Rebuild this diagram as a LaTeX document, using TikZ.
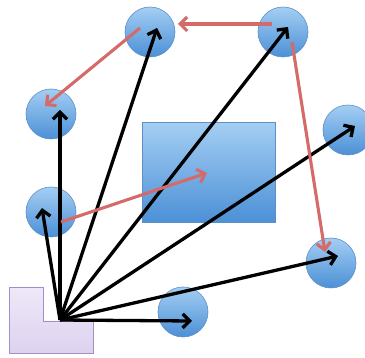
\documentclass[tikz,border=0pt]{standalone}
\usetikzlibrary{arrows.meta}
\definecolor{balltop}{HTML}{A4CEF3}
\definecolor{ballbot}{HTML}{4C90D6}
\definecolor{ballrim}{HTML}{5C90C6}
\definecolor{redline}{HTML}{D56A6A}
\definecolor{lavtop}{HTML}{EEE8F8}
\definecolor{lavbot}{HTML}{DDD2EF}
\definecolor{lavrim}{HTML}{A28FCA}
\begin{document}
\begin{tikzpicture}[x=1pt,y=-1pt,
  ball/.style={circle, minimum size=50pt, inner sep=0pt, draw=ballrim, line width=0.6pt,
               top color=balltop, bottom color=ballbot},
  block/.style={draw=ballrim, line width=0.6pt, top color=balltop, bottom color=ballbot},
  ray/.style={line width=3.3pt, black, -{Straight Barb[length=7pt,width=14pt]}},
  hop/.style={line width=3.1pt, redline, -{Straight Barb[length=7pt,width=14pt]}}]
\useasboundingbox (0,0) rectangle (365,358);

% L-shaped base and central block
\path[draw=lavrim, line width=0.6pt, top color=lavtop, bottom color=lavbot]
  (9,287) -- (43,287) -- (43,321) -- (93,321) -- (93,353) -- (9,353) -- cycle;
\node[block, minimum width=133pt, minimum height=100pt, inner sep=0pt] (blk) at (208.5,172.5) {};

% circles
\node[ball] (a) at (150,32) {};
\node[ball] (b) at (283,32) {};
\node[ball] (c) at (51,114) {};
\node[ball] (d) at (348,130) {};
\node[ball] (e) at (51,212) {};
\node[ball] (f) at (331,263) {};
\node[ball] (g) at (183,312) {};

% arrow end points
\coordinate (o) at (60,320);
\coordinate (ta) at (157,28);
\coordinate (tb) at (288,27);
\coordinate (tc) at (60,110);
\coordinate (td) at (355,126);
\coordinate (te) at (42,208);
\coordinate (tf) at (338,256);
\coordinate (tg) at (192,321);

% rays from the base
\foreach \t in {ta,tb,tc,td,te,tf,tg}
  \draw[ray] (o) -- (\t);

% red hops
\coordinate (b1) at (272,24);
\coordinate (a1) at (178,24);
\coordinate (a2) at (140,28);
\coordinate (c1) at (45,106);
\coordinate (b2) at (292,42);
\coordinate (f1) at (325,252);
\coordinate (e1) at (61,222);
\coordinate (k1) at (207,173);
\draw[hop] (b1) -- (a1);
\draw[hop] (a2) -- (c1);
\draw[hop] (b2) -- (f1);
\draw[hop] (e1) -- (k1);
\end{tikzpicture}
\end{document}
